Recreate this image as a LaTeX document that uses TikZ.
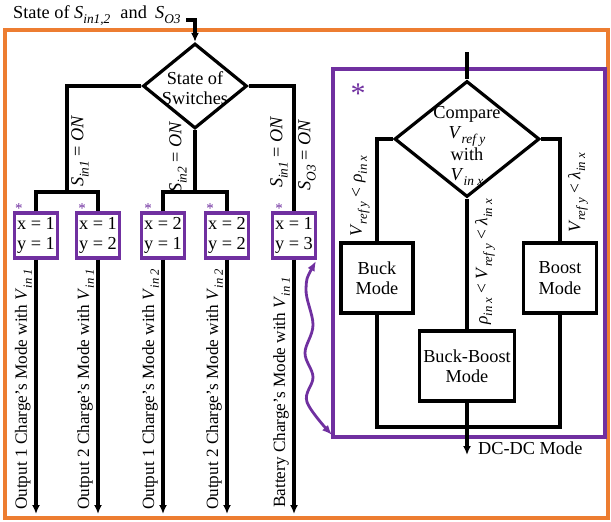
\documentclass[tikz,border=0pt]{standalone}
\usepackage{fontspec}
\usepackage{graphicx}
\setmainfont{Liberation Serif}
\usetikzlibrary{shapes.geometric,arrows.meta,calc}
\definecolor{myorange}{RGB}{237,125,49}
\definecolor{mypurple}{RGB}{112,48,160}
\newcommand\sbs[1]{\raisebox{-0.28em}{\scalebox{0.73}{\itshape #1}}}
\begin{document}
\begin{tikzpicture}[x=1pt,y=-1pt,
  txt/.style={font=\fontsize{18.3}{20.5}\selectfont, inner sep=0pt, align=center},
  ln/.style={line width=3.1pt, draw=black},
  arr/.style={ln, -{Latex[length=9pt,width=8pt]}},
  pbox/.style={txt, draw=mypurple, line width=3.2pt, minimum width=43pt, minimum height=45pt},
  bbox/.style={txt, draw=black, line width=3.2pt, minimum height=70pt},
  dia/.style={diamond, draw=black, line width=3.2pt, inner sep=0pt},
  star/.style={text=mypurple, font=\fontsize{15}{15}\selectfont, inner sep=0pt, anchor=north},
  rlab/.style={txt, rotate=90},
  olab/.style={rlab, font=\fontsize{17.2}{20}\selectfont, anchor=base west},
  clab/.style={rlab, font=\fontsize{17.5}{20}\selectfont},
  ]
\useasboundingbox (0,0) rectangle (611,522);
% outer orange frame
\draw[myorange, line width=3.2pt] (5,30) rectangle (608,518);

% title and first decision
\node[txt, anchor=base west] (title) at (13,18) {State of \textit{S}\sbs{in1,2}\hspace{0.55em}and\hspace{0.45em}\textit{S}\sbs{O3}};
\node[dia, minimum width=104pt, minimum height=85pt] (d1) at (195,86) {};
\node[txt] (d1t) at (195,88) {State of\\Switches};
\coordinate (t1) at (186,20);
\draw[arr] (t1) -| (d1.north);

% mode boxes
\node[pbox] (b1) at (36,235.5) {x = 1\\y = 1};
\node[pbox] (b2) at (98,235.5) {x = 1\\y = 2};
\node[pbox] (b3) at (163,235.5) {x = 2\\y = 1};
\node[pbox] (b4) at (227,235.5) {x = 2\\y = 2};
\node[pbox] (b5) at (294,235.5) {x = 1\\y = 3};
\node[star] (s1) at (19,203) {*};
\node[star] (s2) at (82,203) {*};
\node[star] (s3) at (148,203) {*};
\node[star] (s4) at (210,203) {*};
\node[star] (s5) at (279,203) {*};

% branches
\coordinate (j1) at (67,192);
\coordinate (j2) at (195,192);
\draw[ln] (d1.west) -| (j1);
\draw[ln] (b1.north) -- (b1.north |- j1) -- (b2.north |- j1) -- (b2.north);
\draw[ln] (d1.south) -- (j2);
\draw[ln] (b3.north) -- (b3.north |- j2) -- (b4.north |- j2) -- (b4.north);
\draw[ln] (d1.east) -| (b5.north);

\node[rlab] (l1) at (80,151) {\textit{S}\sbs{in1} = \textit{ON}};
\node[rlab] (l2) at (178,157) {\textit{S}\sbs{in2} = \textit{ON}};
\node[rlab] (l3) at (279,152) {\textit{S}\sbs{in1} = \textit{ON}};
\node[rlab] (l4) at (307,155) {\textit{S}\sbs{O3} = \textit{ON}};

% outputs
\coordinate (eb) at (0,514);
\draw[arr] (b1.south) -- (b1.south |- eb);
\draw[arr] (b2.south) -- (b2.south |- eb);
\draw[arr] (b3.south) -- (b3.south |- eb);
\draw[arr] (b4.south) -- (b4.south |- eb);
\draw[arr] (b5.south) -- (b5.south |- eb);
\node[olab] (o1) at (27,510) {Output 1 Charge’s Mode with \textit{V}\sbs{in 1}};
\node[olab] (o2) at (89,510) {Output 2 Charge’s Mode with \textit{V}\sbs{in 1}};
\node[olab] (o3) at (154,510) {Output 1 Charge’s Mode with \textit{V}\sbs{in 2}};
\node[olab] (o4) at (218,510) {Output 2 Charge’s Mode with \textit{V}\sbs{in 2}};
\node[olab] (o5) at (285,508) {Battery Charge’s Mode with \textit{V}\sbs{in 1}};

% DC-DC block
\node[draw=mypurple, line width=3.2pt, minimum width=272pt, minimum height=368pt, inner sep=0pt] (dc) at (469,253) {};
\node[star, font=\fontsize{30}{30}\selectfont] (sbig) at (358,84) {*};
\node[dia, minimum width=145pt, minimum height=116pt] (d2) at (467,139) {};
\node[txt] (d2t) at (467,146) {Compare\\\textit{V}\sbs{ref y}\\with\\\textit{V}\sbs{in x}};
\coordinate (ctop) at (467,52);
\draw[ln] (ctop) -- (d2.north);
\node[bbox, minimum width=72pt] (buck) at (377,278) {Buck\\Mode};
\node[bbox, minimum width=73pt] (boost) at (560,278) {Boost\\Mode};
\node[bbox, minimum width=95pt] (bb) at (467,366) {Buck-Boost\\Mode};
\draw[ln] (d2.west) -| (buck.north);
\draw[ln] (d2.east) -| (boost.north);
\draw[ln] (d2.south) -- (bb.north);
\coordinate (jb) at (467,427);
\draw[ln] (buck.south) |- (jb) -| (boost.south);
\coordinate (dcend) at (467,455);
\draw[arr] (bb.south) -- (dcend);
\node[txt, anchor=west] (dclbl) at (478,448) {DC-DC Mode};
\node[clab] (c1) at (360,196) {\textit{V}\sbs{ref y} < \textit{ρ}\sbs{in x}};
\node[clab] (c2) at (485,262) {\textit{ρ}\sbs{in x} < \textit{V}\sbs{ref y} < \textit{λ}\sbs{in x}};
\node[clab] (c3) at (578,193) {\textit{V}\sbs{ref y} < \textit{λ}\sbs{in x}};

% wavy link
\coordinate (wa) at (316,261);
\coordinate (wb) at (332,435);
\draw[mypurple, line width=2.8pt, line cap=round, {Latex[length=10pt,width=8pt]}-{Latex[length=10pt,width=8pt]}]
  plot[smooth, tension=0.6] coordinates {(wa) (306,289) (313,325) (305,353) (313,377) (307,402) (wb)};
\end{tikzpicture}
\end{document}
